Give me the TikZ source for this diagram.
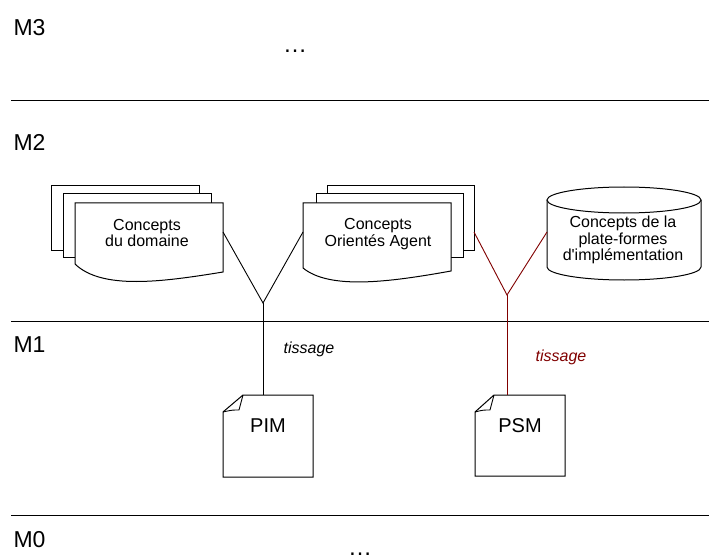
\documentclass[tikz,border=0pt]{standalone}
\usepackage{fontspec}
\setmainfont{Liberation Sans}
\newfontfamily\rawsans{Liberation Sans}
\definecolor{tred}{RGB}{128,0,0}
\begin{document}
\begin{tikzpicture}[x=1pt,y=-1pt,line width=1pt,
  sheet/.style={draw=black,fill=white,line join=miter},
  txt/.style={font=\fontsize{16}{16.5}\selectfont,align=center,inner sep=0pt},
  lvl/.style={font=\fontsize{23}{26}\selectfont,anchor=base west,inner sep=0pt},
  big/.style={font=\fontsize{20}{22}\selectfont,inner sep=0pt},
  weave/.style={font=\fontsize{16}{18}\selectfont\itshape,inner sep=0pt},
  link/.style={draw=black,line width=0.9pt},
  rlink/.style={draw=tred,line width=0.9pt}]
\useasboundingbox (0,0) rectangle (709,556);
% level separators
\draw (11,101) -- (709,101);
\draw (11,321) -- (709,321);
\draw (11,515) -- (709,515);
% level labels
\node[lvl] (m3) at (13,36) {M3};
\node[lvl] (m2) at (13,151) {M2};
\node[lvl] (m1) at (13,352) {M1};
\node[lvl] (m0) at (13,547) {M0};
\node[font=\fontsize{24}{26}\selectfont,anchor=base,inner sep=0pt] (dots3) at (295,53) {…};
\node[font=\fontsize{24}{26}\selectfont,anchor=base,inner sep=0pt] (dots0) at (360,555) {…};
% stack 1 : Concepts du domaine
\draw[sheet] (51,186) rectangle (199,250);
\draw[sheet] (63,194) rectangle (211,257);
\draw[sheet] (75,203) -- (223,203) -- (223,272) .. controls (162,282) and (102,290) .. (75,264) -- cycle;
\node[txt] (dom) at (147,233) {Concepts\\du domaine};
% stack 2 : Concepts Orientes Agent
\draw[sheet] (327,186) rectangle (474,250);
\draw[sheet] (316,194) rectangle (463,257);
\draw[sheet] (303,203) -- (451,203) -- (451,271) .. controls (390,282) and (330,290) .. (303,268) -- cycle;
\node[txt] (agent) at (378,234) {Concepts\\Orientés Agent};
% cylinder : plate-formes
\draw[sheet] (547,200) -- (547,267) arc[start angle=180,end angle=0,x radius=77,y radius=13] -- (701,200);
\draw[sheet] (624,200) ellipse[x radius=77,y radius=13];
\node[txt] (plat) at (623,240) {Concepts de la\\plate-formes\\d{\rawsans '}implémentation};
% PIM document
\draw[sheet] (243,395) -- (313,395) -- (313,477) -- (223,477) -- (223,412) -- cycle;
\draw[line width=0.9pt] (243,395) .. controls (241,402) .. (239,410) .. controls (232,410) .. (223,412);
\node[big] (pim) at (268,426) {PIM};
% PSM document
\draw[sheet] (494,395) -- (565,395) -- (565,476) -- (475,476) -- (475,412) -- cycle;
\draw[line width=0.9pt] (494,395) .. controls (492,402) .. (490,410) .. controls (483,410) .. (475,412);
\node[big] (psm) at (520,426) {PSM};
% anchor points
\coordinate (domR) at (223,232);
\coordinate (agentL) at (303,232);
\coordinate (agentR) at (474,232);
\coordinate (platL) at (547,232);
\coordinate (v1) at (263,303);
\coordinate (v2) at (507,295);
\coordinate (pimT) at (263,395);
\coordinate (psmT) at (507,395);
% connectors
\draw[link] (domR) -- (v1) -- (agentL);
\draw[link] (v1) -- (pimT);
\draw[rlink] (agentR) -- (v2) -- (platL);
\draw[rlink] (v2) -- (psmT);
\node[weave] (t1) at (309,349) {tissage};
\node[weave,text=tred] (t2) at (561,357) {tissage};
\end{tikzpicture}
\end{document}
